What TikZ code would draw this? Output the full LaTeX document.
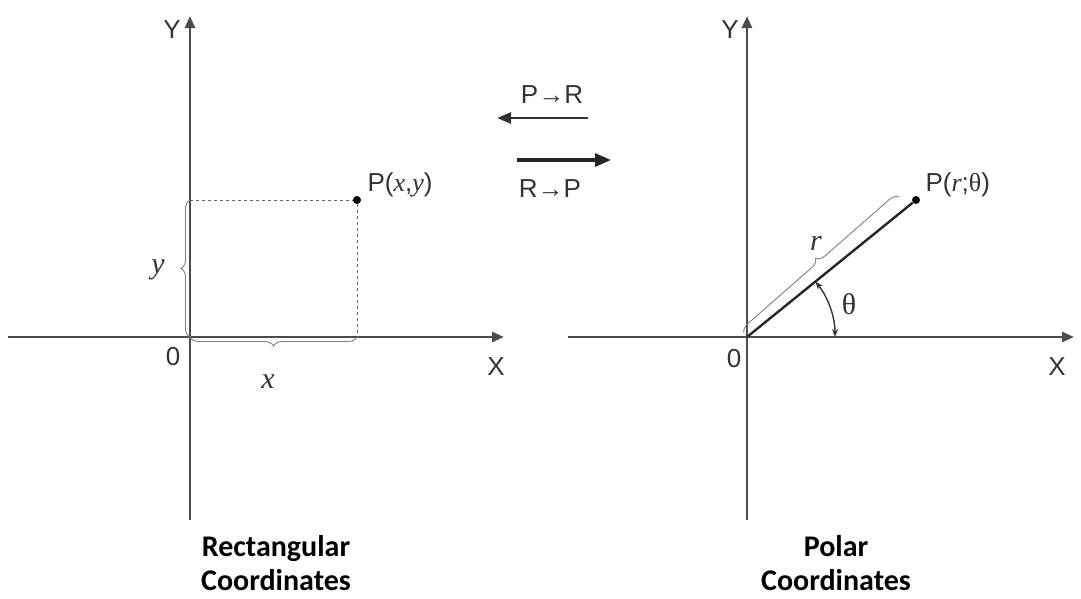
\documentclass[tikz,border=0pt]{standalone}
\usepackage{fontspec}
\setmainfont{Liberation Sans}
\newfontfamily\capfont{Carlito}
\newfontfamily\serifit{Liberation Serif}
\usetikzlibrary{arrows.meta,decorations.pathreplacing}
\begin{document}
\begin{tikzpicture}[x=1pt,y=-1pt,
  axis/.style={line width=2.6pt,draw=black!70,-{Triangle[length=12pt,width=10pt]}},
  lab/.style={font=\fontsize{26}{28}\selectfont,text=black!80},
  ital/.style={font=\serifit\fontsize{30}{32}\selectfont\itshape},
  captext/.style={font=\capfont\bfseries\fontsize{30}{34}\selectfont,align=center},
  brc/.style={decorate,decoration={brace,amplitude=9pt},draw=black!50,line width=0.9pt},
  dot/.style={circle,fill=black,inner sep=0pt,minimum size=8pt}]
\useasboundingbox (0,0) rectangle (1081,598);
% left
\coordinate (lo) at (190,337);
\coordinate (lyb) at (190,520); \coordinate (lyt) at (190,16);
\coordinate (lxl) at (8,337); \coordinate (lxr) at (504,337);
\draw[axis] (lyb) -- (lyt);
\draw[axis] (lxl) -- (lxr);
\node[dot] (p1) at (357,200) {};
\coordinate (py) at (190,200); \coordinate (px) at (357,337);
\draw[dashed,black!60,line width=0.8pt] (py) -- (p1) -- (px);
\draw[brc] (lo) -- (py);
\draw[brc] (px) -- (lo);
\node[lab] (ly) at (172,30) {Y};
\node[lab] (l0) at (173,357) {0};
\node[lab] (lx) at (496,367) {X};
\node[lab,ital] (yl) at (158,270) {y};
\node[lab,ital] (xl) at (268,382) {x};
\node[lab,anchor=west] (pl) at (364,185) {P({\serifit\itshape x},{\serifit\itshape y})};
\node[captext] (c1) at (276,563) {Rectangular\\Coordinates};
% middle
\coordinate (a1s) at (588,118); \coordinate (a1e) at (497,118);
\coordinate (a2s) at (517,160); \coordinate (a2e) at (611,160);
\draw[line width=2.6pt,black!80,-{Triangle[length=14pt,width=11pt]}] (a1s) -- (a1e);
\draw[line width=3.2pt,black!85,-{Triangle[length=16pt,width=13pt]}] (a2s) -- (a2e);
\node[lab] (pr) at (552,95) {P\textrightarrow R};
\node[lab] (rp) at (550,189) {R\textrightarrow P};
% right
\coordinate (ro) at (747,337);
\coordinate (ryb) at (747,520); \coordinate (ryt) at (747,16);
\coordinate (rxl) at (568,337); \coordinate (rxr) at (1074,337);
\draw[axis] (ryb) -- (ryt);
\draw[axis] (rxl) -- (rxr);
\node[dot] (p2) at (916,200) {};
\draw[line width=2.4pt,black!85] (ro) -- (p2);
\draw[brc] ([shift={(-3,-4)}]ro) -- ([shift={(-6,-8)}]905,205);
\draw[line width=1.4pt,black!80,{Stealth[length=8pt]}-{Stealth[length=8pt]}] (835,337) arc[start angle=0,end angle=-39,radius=88];
\node[lab] (ry) at (730,30) {Y};
\node[lab] (r0) at (734,359) {0};
\node[lab] (rx) at (1057,367) {X};
\node[lab,ital] (rl) at (816,243) {r};
\node[lab,font=\serifit\fontsize{30}{32}\selectfont] (th) at (849,304) {θ};
\node[lab,anchor=west] (pl2) at (922,185) {P({\serifit\itshape r};{\serifit θ})};
\node[captext] (c2) at (836,563) {Polar\\Coordinates};
\end{tikzpicture}
\end{document}
